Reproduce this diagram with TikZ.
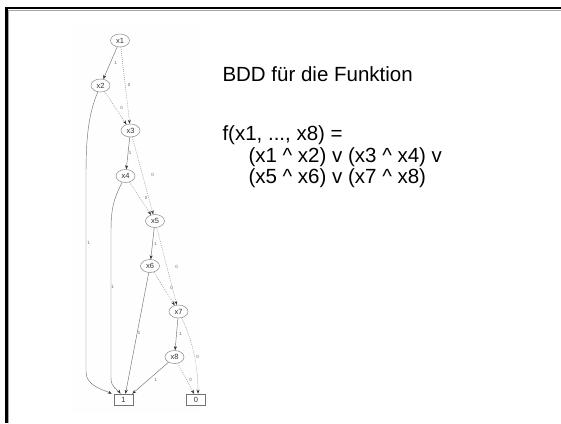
\documentclass[tikz,border=0pt]{standalone}
\usepackage{fontspec}
\setmainfont{Liberation Sans}
\usetikzlibrary{shapes.geometric,arrows.meta}
\begin{document}
\begin{tikzpicture}[x=1pt,y=-1pt,
  vnode/.style={ellipse,draw=black!45,line width=0.5pt,minimum width=19pt,minimum height=13pt,inner sep=0pt,font=\fontsize{7.5}{8}\selectfont,text=black!80},
  tnode/.style={rectangle,draw=black!55,line width=0.5pt,minimum width=19pt,minimum height=11pt,inner sep=0pt,font=\fontsize{7.5}{8}\selectfont,text=black!80},
  sol/.style={draw=black!55,line width=0.45pt,-{Stealth[length=4pt,width=3pt,black!80]}},
  dot/.style={draw=black!45,line width=0.5pt,dash pattern=on 0.8pt off 1.2pt,-{Stealth[length=4pt,width=3pt,black!80]}},
  lbl/.style={font=\fontsize{4.5}{5}\selectfont,text=black!60,inner sep=0pt},
  txt/.style={anchor=base west,inner sep=0pt,font=\fontsize{20.5}{21.5}\selectfont}]
\useasboundingbox (0,0) rectangle (561,423);
\fill[white] (0,0) rectangle (561,423);
\fill[black!0.5] (70,23) rectangle (200,413);
\draw[black,line width=2.6pt] (6.5,423) -- (6.5,8) -- (561,8);
\draw[black!35,line width=0.6pt] (8.6,423) -- (8.6,10.1) -- (561,10.1);

% nodes
\node[vnode] (x1) at (120,40.5) {x1};
\node[vnode] (x2) at (100.5,85.5) {x2};
\node[vnode] (x3) at (130.5,130.5) {x3};
\node[vnode] (x4) at (125.5,176) {x4};
\node[vnode] (x5) at (155,221) {x5};
\node[vnode] (x6) at (150,266) {x6};
\node[vnode] (x7) at (178.5,311.5) {x7};
\node[vnode] (x8) at (174.5,357) {x8};
\node[tnode] (b1) at (123.5,399.5) {1};
\node[tnode] (b0) at (196,399.5) {0};

% edges
\draw[sol] (x1) -- (x2);
\draw[dot] (x1) -- (x3);
\draw[dot] (x2) -- (x3);
\draw[sol] (x2) .. controls (88,115) and (86,140) .. (86,175) -- (86,372) .. controls (86,386) and (104,390) .. ([xshift=-2pt]b1.north west);
\draw[sol] (x3) -- (x4);
\draw[dot] (x3) -- (x5);
\draw[dot] (x4) -- (x5);
\draw[sol] (x4) .. controls (113,200) and (111,210) .. (111,232) -- (111,378) .. controls (111,388) and (118,390) .. ([xshift=-3pt]b1.north);
\draw[sol] (x5) -- (x6);
\draw[dot] (x5) -- (x7);
\draw[dot] (x6) -- (x7);
\draw[sol] (x6) -- ([xshift=2pt]b1.north);
\draw[sol] (x7) -- (x8);
\draw[dot] (x7) .. controls (190,335) and (198,360) .. ([xshift=2pt]b0.north);
\draw[sol] (x8) -- ([xshift=-1pt]b1.north east);
\draw[dot] (x8) -- ([xshift=-2pt]b0.north);

% edge labels
\node[lbl] (l12) at (115.5,62.5) {1};
\node[lbl] (l13) at (129,85) {0};
\node[lbl] (l23) at (121.5,107.5) {0};
\node[lbl] (l2b) at (88.5,243) {1};
\node[lbl] (l34) at (130,153) {1};
\node[lbl] (l35) at (152.5,175) {0};
\node[lbl] (l45) at (146,198) {0};
\node[lbl] (l4b) at (112.5,286.5) {1};
\node[lbl] (l56) at (155.5,244) {1};
\node[lbl] (l57) at (176.5,266.5) {0};
\node[lbl] (l67) at (171.5,287.5) {0};
\node[lbl] (l6b) at (139,333) {1};
\node[lbl] (l78) at (180.5,333.5) {1};
\node[lbl] (l70) at (197.5,356.5) {0};
\node[lbl] (l8b) at (155.5,379.5) {1};
\node[lbl] (l80) at (190.5,380) {0};

% text
\node[txt] (t1) at (222.3,81.7) {BDD für die Funktion};
\node[txt] (t2) at (222.3,140.5) {f(x1, ..., x8) =};
\node[txt] (t3) at (248.3,162) {(x1 \^{} x2) v (x3 \^{} x4) v};
\node[txt] (t4) at (248.3,183.5) {(x5 \^{} x6) v (x7 \^{} x8)};
\end{tikzpicture}
\end{document}
